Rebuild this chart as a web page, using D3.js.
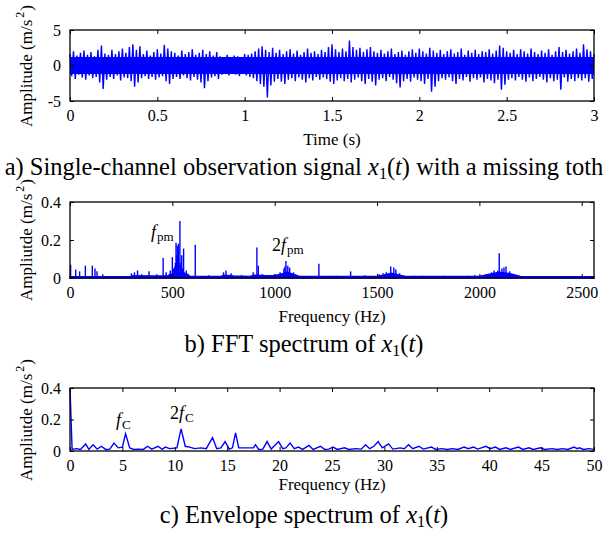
<!DOCTYPE html>
<html><head><meta charset="utf-8">
<script src="https://cdn.jsdelivr.net/npm/d3@7"></script>
<style>
html,body{margin:0;padding:0;background:#fff;}
svg{display:block;font-family:"Liberation Serif",serif;}
svg text{font-family:"Liberation Serif",serif !important;fill:#000;}
</style></head>
<body><svg id="c" width="606" height="539"></svg>
<script>
// ---------------- DATA ----------------
// a) time signal, sampled envelope peaks every 0.02 s (0 .. 3 s)
const sigStep = 0.02;
const sigUpper = [1.6,2.0,1.4,1.8,2.1,1.5,1.9,1.3, 2.2,2.8,1.7, 1.5,2.2,1.6,2.0,2.4,1.8, 2.6,3.0,2.2,2.7,
  1.6,2.1,1.4,1.9,2.3,1.7, 2.9,2.4,2.0, 1.8,1.4,2.1,1.6,1.9,2.3,1.5,1.8,2.2,1.6,2.0,1.4,1.9,
  1.3,1.2,1.5,1.1,1.4,1.3,1.2,1.6,1.5,1.7, 2.0,2.4,2.7,2.2,1.9,2.5,
  1.8,2.2,1.6,2.0,2.3,1.7,2.1,1.5,1.9,2.4,1.8,2.0,1.6,2.2,1.9, 2.6,3.0,2.3, 1.9,2.4,2.0, 3.5,2.6,2.2,
  2.5,1.9,2.3,2.6,2.0,1.8, 2.2,1.7,2.0,2.4,1.6,1.9,2.1,1.5,2.0,2.3,1.8, 2.4,2.0,1.7,2.5,2.1,1.8,2.2,
  1.6,2.0,2.3,1.7,1.9,2.4,1.5,2.1,1.8,2.2,1.6,2.0,1.9,2.3,1.7,2.1, 2.8,2.5,2.0,
  1.8,2.2,1.6,2.3,2.0,1.7,2.4,1.9, 1.6,2.1,1.8,2.3,1.5,2.0,2.6,1.9,2.2,1.7,2.0,2.4,1.8, 3.0,2.3,2.0,1.6];
const sigLower = [-1.5,-1.9,-1.3,-1.7,-2.0,-1.4,-1.8,-1.6, -2.4,-3.3,-2.0, -1.6,-1.9,-1.4,-2.1,-1.7,-1.8,
  -2.2,-3.0,-2.4,-1.8, -1.5,-1.9,-1.6,-2.0,-1.7,-1.5, -2.2,-2.6,-1.9,
  -1.6,-1.9,-1.4,-1.8,-2.1,-1.6,-2.0,-2.4,-3.2,-2.2,-1.7,-1.5,-1.9,
  -1.3,-1.2,-1.4,-1.1,-1.3,-1.5,-1.2,-1.4,-1.6,-1.8, -2.2,-2.6,-3.0,-4.5,-2.8,-2.3,
  -1.9,-2.3,-2.6,-2.0,-1.8,-2.2,-1.7,-2.0,-2.4,-1.8,-2.1,-1.6,-2.0,-1.7,-1.9, -2.3,-2.6,-2.1, -1.8,-2.2,-1.9,
  -2.4,-2.0,-1.7, -2.2,-2.6,-1.9,-2.3,-2.8,-2.0, -1.8,-2.2,-1.6,-2.0,-2.5,-3.1,-2.2,-1.9,-2.3,-1.7,-2.0,
  -2.2,-2.6,-1.9,-3.7,-3.0,-2.2,-1.8, -2.0,-1.7,-2.2,-2.6,-1.9,-2.1,-1.6,-2.3,-1.8,-2.0,-1.7,-2.4,-1.9,-2.1,-2.5,-2.0,
  -3.4,-2.7,-2.0, -1.8,-2.1,-1.6,-2.0,-2.3,-1.7,-2.2,-1.9,
  -1.6,-2.0,-2.4,-1.8,-2.2,-2.0,-3.4,-1.7,-2.3,-1.9,-2.2,-1.8,-2.1, -1.8,-2.3,-1.9,-1.6];
// dense core band of the signal (approx. amplitude always reached), m/s^2
const sigCore = 1.2;
const timeTicks = [0,0.5,1,1.5,2,2.5,3];
const sigYTicks = [-5,0,5];

// b) FFT spectrum: discrete peaks (Hz, amplitude) and the noise floor
const fftPeakFreq = [3,28,47,75,109,122,132,160,300,315,330,350,386,424,455,470,490,500,505,508,512,515,518,521,524,527,530,533,537,541,546,550,555,560,568,612,
  678,750,762,787,838,895,913,920,940,998,1026,1045,1050,1055,1064,1073,1092,1148,1216,1300,1371,1441,
  1510,1530,1545,1567,1582,1592,1610,1680,1720,1827,1940,1977,2034,2060,2072,2090,2097,2110,2120,2130,2148,2167,2195];
const fftPeakAmp = [0.07,0.045,0.035,0.065,0.065,0.05,0.035,0.02,0.025,0.03,0.04,0.02,0.035,0.02,0.105,0.03,0.04,0.11,0.05,0.045,0.06,0.08,0.185,0.12,0.17,0.10,0.18,0.07,0.30,0.08,0.12,0.05,0.155,0.03,0.04,0.175,
  0.015,0.03,0.04,0.025,0.015,0.03,0.16,0.065,0.02,0.02,0.03,0.05,0.06,0.09,0.065,0.055,0.03,0.01,0.075,0.012,0.035,0.015,
  0.02,0.025,0.03,0.06,0.055,0.045,0.025,0.012,0.012,0.012,0.012,0.015,0.02,0.03,0.04,0.04,0.13,0.05,0.055,0.06,0.035,0.02,0.012];
const fftFloorFreq = [0,300,305,400,480,490,575,585,740,750,800,880,900,960,1000,1030,1060,1090,1120,1500,1530,1570,1610,1640,2000,2050,2100,2160,2200,2560];
const fftFloorAmp  = [0.006,0.006,0.012,0.01,0.012,0.02,0.02,0.008,0.008,0.015,0.01,0.008,0.015,0.012,0.012,0.02,0.03,0.02,0.008,0.008,0.015,0.025,0.015,0.008,0.008,0.02,0.03,0.02,0.008,0.006];
const fftXTicks = [0,500,1000,1500,2000,2500];
const specYTicks = [0,0.2,0.4];

// c) envelope spectrum
const envFreq = [0,0.2,0.6,1.0,1.5,1.8,2.2,2.6,3.0,3.4,3.8,4.2,4.6,5.0,5.3,5.7,6.1,6.5,7.0,7.4,7.8,8.4,8.8,9.1,9.5,10.2,10.6,11.0,11.4,11.9,12.5,13.0,13.6,14.0,14.4,14.8,15.2,15.5,15.8,16.1,17.5,17.7,18.0,18.4,18.8,19.2,19.9,20.3,20.6,21.0,21.4,21.8,22.2,22.8,23.2,23.9,24.3,24.7,25.1,25.5,26.2,26.6,27.3,27.8,28.2,28.6,29.0,29.4,29.8,30.4,30.8,31.5,31.9,32.3,32.7,33.3,33.7,34.5,34.9,35.5,36.0,36.5,37.0,37.6,38.0,38.5,38.9,39.7,40.1,40.6,41.0,41.6,42.0,42.8,43.2,43.8,44.2,44.9,45.3,46.0,46.5,47.0,47.5,48.1,48.4,48.6,49.0,49.5,50];
const envAmp = [0.4,0.01,0.015,0.01,0.045,0.01,0.04,0.012,0.03,0.01,0.012,0.05,0.02,0.025,0.11,0.02,0.01,0.012,0.01,0.03,0.012,0.03,0.01,0.025,0.015,0.02,0.14,0.03,0.025,0.015,0.02,0.015,0.085,0.015,0.02,0.06,0.012,0.02,0.115,0.02,0.02,0.04,0.01,0.012,0.06,0.012,0.06,0.015,0.02,0.05,0.015,0.025,0.01,0.035,0.01,0.03,0.01,0.012,0.025,0.01,0.02,0.01,0.015,0.012,0.04,0.015,0.03,0.06,0.02,0.045,0.012,0.02,0.015,0.04,0.015,0.03,0.012,0.025,0.01,0.015,0.01,0.015,0.01,0.025,0.015,0.025,0.012,0.03,0.015,0.025,0.01,0.02,0.01,0.025,0.01,0.02,0.01,0.02,0.01,0.015,0.01,0.015,0.01,0.025,0.015,0.02,0.01,0.015,0.01];
const envXTicks = [0,5,10,15,20,25,30,35,40,45,50];

// ---------------- DRAW ----------------
const SERIF = "'Liberation Serif', serif";
const svg = d3.select("#c");
const BLUE = "#0000ff";
const X0 = 70, X1 = 594;

function frame(g, x, y, xt, yt, xfmt, yfmt) {
  const [ya, yb] = y.range();
  const tl = 4;
  const clean = s => { s.select(".domain").remove(); s.attr("font-family", null).attr("font-size", null); };
  g.append("g").attr("transform", `translate(0,${ya})`)
    .call(d3.axisBottom(x).tickValues(xt).tickSize(-tl).tickPadding(9).tickFormat(xfmt)).call(clean);
  g.append("g").attr("transform", `translate(0,${yb})`)
    .call(d3.axisTop(x).tickValues(xt).tickSize(-tl).tickFormat("")).call(clean);
  g.append("g").attr("transform", `translate(${X0},0)`)
    .call(d3.axisLeft(y).tickValues(yt).tickSize(-tl).tickPadding(9).tickFormat(yfmt)).call(clean);
  g.append("g").attr("transform", `translate(${X1},0)`)
    .call(d3.axisRight(y).tickValues(yt).tickSize(-tl).tickFormat("")).call(clean);
  g.selectAll(".tick line").attr("stroke", "#000").attr("stroke-width", 1);
  g.selectAll(".tick text").style("font-family", SERIF).style("font-size", "16px").attr("fill", "#000");
  g.append("rect").attr("x", X0).attr("y", yb).attr("width", X1 - X0).attr("height", ya - yb)
    .attr("fill", "none").attr("stroke", "#000").attr("stroke-width", 1.3);
}
function ylabel(g, yc, txt) {
  const t = g.append("text").attr("transform", `translate(32,${yc}) rotate(-90)`)
    .attr("text-anchor", "middle").style("font-family", SERIF).style("font-size", "17px");
  t.append("tspan").text(txt + " (m/s");
  t.append("tspan").style("font-size", "12px").attr("dx", 2).attr("dy", -8).text("2");
  t.append("tspan").attr("dy", 8).attr("dx", 1).text(")");
}
function xlabel(g, yb, txt) {
  g.append("text").attr("x", (X0 + X1) / 2).attr("y", yb).attr("text-anchor", "middle")
    .style("font-family", SERIF).style("font-size", "17px").text(txt);
}
function caption(y, pre, post) {
  const t = svg.append("text").attr("x", 304).attr("y", y).attr("text-anchor", "middle")
    .style("font-family", SERIF).style("font-size", "24.5px");
  t.append("tspan").text(pre);
  t.append("tspan").attr("font-style", "italic").text("x");
  t.append("tspan").style("font-size", "16px").attr("dy", 4).text("1");
  t.append("tspan").attr("dy", -4).text("(");
  t.append("tspan").attr("font-style", "italic").text("t");
  t.append("tspan").text(")" + post);
}
function annot(g, x, y, pre, sub) {
  const t = g.append("text").attr("x", x).attr("y", y).style("font-family", SERIF).style("font-size", "18px");
  if (pre) t.append("tspan").text(pre);
  t.append("tspan").attr("font-style", "italic").text("f");
  t.append("tspan").style("font-size", "13px").attr("dx", 1).attr("dy", 3).text(sub);
}
const fmt = d => String(d);

// ---- a) ----
{
  const g = svg.append("g");
  const x = d3.scaleLinear().domain([0, 3]).range([X0, X1]);
  const y = d3.scaleLinear().domain([-5, 5]).range([101, 30]);
  g.append("rect").attr("x", x(0)).attr("width", x(3) - x(0))
    .attr("y", y(sigCore)).attr("height", y(-sigCore) - y(sigCore)).attr("fill", BLUE);
  const zig = [];
  sigUpper.forEach((u, i) => {
    const t = i * sigStep;
    zig.push([t, u]);
    if (i < sigUpper.length - 1) zig.push([t + sigStep / 2, sigLower[i]]);
  });
  g.append("path").datum(zig)
    .attr("d", d3.line().x(d => x(d[0])).y(d => y(d[1])))
    .attr("fill", "none").attr("stroke", BLUE).attr("stroke-width", 1.4);
  frame(g, x, y, timeTicks, sigYTicks, fmt, fmt);
  ylabel(g, 66, "Amplitude");
  xlabel(g, 145, "Time (s)");
}
caption(175, "a) Single-channel observation signal ", " with a missing toth");

// ---- b) ----
{
  const g = svg.append("g");
  const x = d3.scaleLinear().domain([0, 2560]).range([X0, X1]);
  const y = d3.scaleLinear().domain([0, 0.4]).range([278, 202]);
  const floor = fftFloorFreq.map((f, i) => [f, fftFloorAmp[i]]);
  g.append("path").datum(floor)
    .attr("d", d3.area().x(d => x(d[0])).y0(y(0)).y1(d => y(d[1])))
    .attr("fill", BLUE).attr("stroke", BLUE).attr("stroke-width", 1.5);
  g.selectAll("line.pk").data(fftPeakFreq.map((f, i) => [f, fftPeakAmp[i]])).join("line")
    .attr("class", "pk")
    .attr("x1", d => x(d[0])).attr("x2", d => x(d[0]))
    .attr("y1", y(0)).attr("y2", d => y(d[1]))
    .attr("stroke", BLUE).attr("stroke-width", 1.4);
  frame(g, x, y, fftXTicks, specYTicks, fmt, fmt);
  ylabel(g, 240, "Ampliutde");
  xlabel(g, 322, "Frequency (Hz)");
  annot(g, 151, 238, "", "pm");
  annot(g, 272, 251, "2", "pm");
}
caption(352, "b) FFT spectrum of ", "");

// ---- c) ----
{
  const g = svg.append("g");
  const x = d3.scaleLinear().domain([0, 50]).range([X0, X1]);
  const y = d3.scaleLinear().domain([0, 0.4]).range([451, 388]);
  g.append("path").datum(envFreq.map((f, i) => [f, envAmp[i]]))
    .attr("d", d3.line().x(d => x(d[0])).y(d => y(d[1])))
    .attr("fill", "none").attr("stroke", BLUE).attr("stroke-width", 1.4);
  frame(g, x, y, envXTicks, specYTicks, fmt, fmt);
  ylabel(g, 420, "Ampliutde");
  xlabel(g, 490, "Frequency (Hz)");
  annot(g, 116, 426, "", "C");
  annot(g, 170, 419, "2", "C");
}
caption(523, "c) Envelope spectrum of ", "");
</script></body></html>
